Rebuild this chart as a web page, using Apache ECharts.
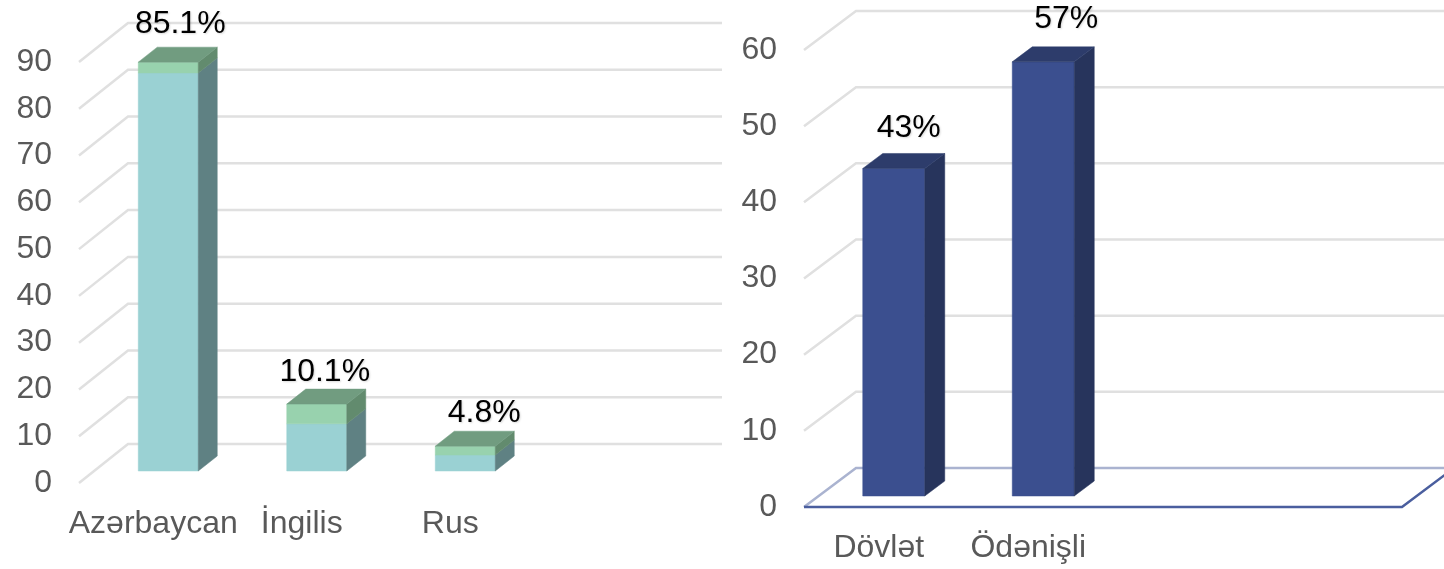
<!DOCTYPE html>
<html>
<head>
<meta charset="utf-8">
<title>Chart</title>
<script src="https://cdn.jsdelivr.net/npm/echarts@6/dist/echarts.min.js"></script>
<style>
html, body { margin: 0; background: #fff; }
#chart { width: 1444px; height: 569px; }
</style>
</head>
<body>
<div id="chart"></div>
<script>
// left panel
const languageCategories = ['Azərbaycan', 'İngilis', 'Rus', '']
const languageValues = [85.1, 10.1, 3.4]
const languageCaps = [2.3, 4.2, 1.9]
const languageLabels = ['85.1%', '10.1%', '4.8%']
const languageTicks = [0, 10, 20, 30, 40, 50, 60, 70, 80, 90]

// right panel
const fundingCategories = ['Dövlət', 'Ödənişli', '', '']
const fundingValues = [43, 57]
const fundingCaps = [0, 0]
const fundingLabels = ['43%', '57%']
const fundingTicks = [0, 10, 20, 30, 40, 50, 60]

const FONT = '"Liberation Sans", Arial, sans-serif'
const GRID_COLOR = '#e0e0e0'

const tealFaces = { front: '#9ad1d3', side: '#5f8183', capFront: '#98d2ae', capSide: '#628b6e', top: '#719c80' }
const blueFaces = { front: '#3b4f8f', side: '#27345c', capFront: '#3b4f8f', capSide: '#27345c', top: '#2d3c6b' }

// walls of the fake 3d box: front tick -> back wall -> far right
function wallSeries(gridIndex, ticks, depth, floor) {
  return {
    type: 'custom',
    xAxisIndex: gridIndex,
    yAxisIndex: gridIndex,
    silent: true,
    z: 1,
    data: ticks.map(t => [0, t]),
    renderItem(params, api) {
      const cs = params.coordSys
      const y = api.coord([0, api.value(1)])[1]
      const isFloor = floor && api.value(1) === 0
      const children = [{
        type: 'polyline',
        shape: {
          points: [
            [cs.x, y],
            [cs.x + depth[0], y + depth[1]],
            [cs.x + cs.width + depth[0], y + depth[1]]
          ]
        },
        style: { fill: null, stroke: isFloor ? '#aab3d0' : GRID_COLOR, lineWidth: 2.5 }
      }]
      if (isFloor) {
        children.push({
          type: 'polyline',
          shape: {
            points: [
              [cs.x, y],
              [cs.x + cs.width, y],
              [cs.x + cs.width + depth[0], y + depth[1]]
            ]
          },
          style: { fill: null, stroke: '#4a5e9e', lineWidth: 2.5 }
        })
      }
      return { type: 'group', children }
    }
  }
}

function face(points, fill) {
  return { type: 'polygon', shape: { points }, style: { fill, stroke: fill, lineWidth: 0.5 } }
}

function barSeries(gridIndex, values, caps, labels, layout) {
  const { width, shift, baseLift, dx, dy, colors, labelOffsets } = layout
  return {
    type: 'custom',
    xAxisIndex: gridIndex,
    yAxisIndex: gridIndex,
    silent: true,
    z: 3,
    data: values.map((v, i) => [i, v, caps[i]]),
    renderItem(params, api) {
      const i = api.value(0)
      const val = api.value(1)
      const cap = api.value(2)
      const c = api.coord([i, 0])
      const x0 = c[0] + shift - width / 2
      const x1 = x0 + width
      const yBase = c[1] - baseLift
      const yMid = api.coord([i, val])[1] - baseLift
      const yTop = api.coord([i, val + cap])[1] - baseLift
      const children = [
        face([[x0, yBase], [x1, yBase], [x1, yMid], [x0, yMid]], colors.front),
        face([[x1, yBase], [x1 + dx, yBase - dy], [x1 + dx, yMid - dy], [x1, yMid]], colors.side)
      ]
      if (cap > 0) {
        children.push(face([[x0, yMid], [x1, yMid], [x1, yTop], [x0, yTop]], colors.capFront))
        children.push(face([[x1, yMid], [x1 + dx, yMid - dy], [x1 + dx, yTop - dy], [x1, yTop]], colors.capSide))
      }
      children.push(face([[x0, yTop], [x1, yTop], [x1 + dx, yTop - dy], [x0 + dx, yTop - dy]], colors.top))
      children.push({
        type: 'text',
        x: (x0 + x1) / 2 + labelOffsets[i][0],
        y: yTop + labelOffsets[i][1],
        style: {
          text: labels[i],
          font: '32px ' + FONT,
          fill: '#000',
          align: 'center',
          verticalAlign: 'middle',
          textShadowColor: 'rgba(0,0,0,0.15)',
          textShadowBlur: 2,
          textShadowOffsetX: 1,
          textShadowOffsetY: 1
        }
      })
      return { type: 'group', children }
    }
  }
}

function xAxis(gridIndex, categories, fontSize, margin) {
  return {
    type: 'category',
    gridIndex,
    data: categories,
    axisLine: { show: false },
    axisTick: { show: false },
    splitLine: { show: false },
    axisLabel: { color: '#595959', fontFamily: FONT, fontSize, margin, interval: 0 }
  }
}

function yAxis(gridIndex, max, fontSize, margin) {
  return {
    type: 'value',
    gridIndex,
    min: 0,
    max,
    interval: 10,
    axisLine: { show: false },
    axisTick: { show: false },
    splitLine: { show: false },
    axisLabel: { color: '#595959', fontFamily: FONT, fontSize, margin, padding: [0, 0, -3, 0] }
  }
}

const chart = echarts.init(document.getElementById('chart'), null, { renderer: 'canvas' })

chart.setOption({
  animation: false,
  backgroundColor: '#fff',
  grid: [
    { left: 79, top: 62, width: 594, height: 421 },
    { left: 804, top: 50, width: 598, height: 457 }
  ],
  xAxis: [
    xAxis(0, languageCategories, 32, 25),
    xAxis(1, fundingCategories, 32, 25)
  ],
  yAxis: [
    yAxis(0, 90, 32, 27),
    yAxis(1, 60, 32, 27)
  ],
  series: [
    wallSeries(0, languageTicks, [49, -39], false),
    wallSeries(1, fundingTicks, [52, -39], true),
    barSeries(0, languageValues, languageCaps, languageLabels, {
      width: 60, shift: 15, baseLift: 12, dx: 19, dy: 15, colors: tealFaces,
      labelOffsets: [[12, -38], [8, -32], [19, -33]]
    }),
    barSeries(1, fundingValues, fundingCaps, fundingLabels, {
      width: 62, shift: 15, baseLift: 11, dx: 20, dy: 15, colors: blueFaces,
      labelOffsets: [[15, -40], [23, -43]]
    })
  ]
})

window.addEventListener('resize', () => chart.resize())
</script>
</body>
</html>
